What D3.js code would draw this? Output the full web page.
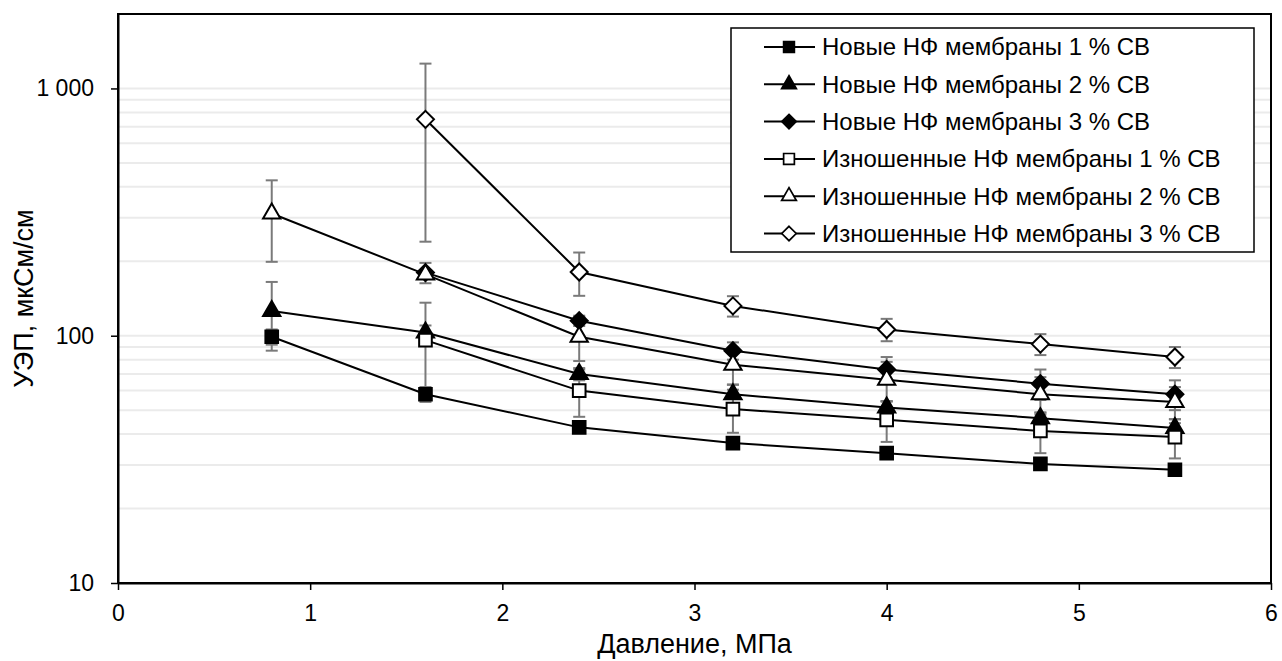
<!DOCTYPE html>
<html>
<head>
<meta charset="utf-8">
<script src="https://cdn.jsdelivr.net/npm/d3@7"></script>
<style>
  body { margin: 0; background: #fff; }
  svg { display: block; font-family: "Liberation Sans", Arial, sans-serif; }
</style>
</head>
<body>
<svg id="chart" width="1282" height="661"></svg>
<script>
// pressure, MPa
const pressures = [0.8, 1.6, 2.4, 3.2, 4.0, 4.8, 5.5];

const seriesNames = [
    "Новые НФ мембраны 1 % СВ",
    "Новые НФ мембраны 2 % СВ",
    "Новые НФ мембраны 3 % СВ",
    "Изношенные НФ мембраны 1 % СВ",
    "Изношенные НФ мембраны 2 % СВ",
    "Изношенные НФ мембраны 3 % СВ"
];

// conductivity values, µS/cm (null = no measurement)
const newOne = [99, 58, 42.6, 36.8, 33.5, 30.3, 28.7];
const newTwo = [126, 103, 70, 58, 51.3, 46.4, 42.3];
const newThree = [null, 180, 115, 87, 73, 64, 58];
const wornOne = [null, 96, 60, 50.5, 45.7, 41.2, 38.9];
const wornTwo = [312, 177, 99, 76.3, 66.4, 58, 54];
const wornThree = [null, 750, 181, 132, 106, 92.5, 82];

// error bar half-widths
const newOneErr = [7, 4, 1.5, 1.5, 1.5, 1.5, 1.5];
const newTwoErr = [39, 7, 4, 5.5, 3, 2.5, 2];
const newThreeErr = [null, 17, 5.5, 7, 9, 9, 8];
const wornOneErr = [null, 40, 13, 10, 8.5, 7.7, 7];
const wornTwoErr = [113, 5, 20, 13, 12, 10, 8];
const wornThreeErr = [null, 510, 36, 12.5, 11, 9, 8];

const markerTypes = ["square", "triangle", "diamond", "square", "triangle", "diamond"];
const markerFilled = [true, true, true, false, false, false];

const xTicks = [0, 1, 2, 3, 4, 5, 6];
const yTicks = [10, 100, 1000];
const yTickLabels = ["10", "100", "1 000"];
const yMinor = [20, 30, 40, 50, 60, 70, 80, 90, 100, 200, 300, 400, 500, 600, 700, 800, 900, 1000];

const allValues = [newOne, newTwo, newThree, wornOne, wornTwo, wornThree];
const allErrors = [newOneErr, newTwoErr, newThreeErr, wornOneErr, wornTwoErr, wornThreeErr];

function drawChart() {
    const svg = d3.select("#chart");
    const left = 118, right = 1271, top = 14, bottom = 583;

    const x = d3.scaleLinear().domain([0, 6]).range([left, right]);
    const y = d3.scaleLog().domain([10, 2000]).range([bottom, top]);

    // gridlines
    svg.append("g")
        .selectAll("line")
        .data(yMinor)
        .join("line")
        .attr("x1", left)
        .attr("x2", right)
        .attr("y1", (d) => y(d))
        .attr("y2", (d) => y(d))
        .attr("stroke", "#ebebeb")
        .attr("stroke-width", 2);

    // frame
    svg.append("rect")
        .attr("x", left)
        .attr("y", top)
        .attr("width", right - left)
        .attr("height", bottom - top)
        .attr("fill", "none")
        .attr("stroke", "#000")
        .attr("stroke-width", 2);

    // x axis
    svg.append("g")
        .attr("transform", `translate(0, ${bottom})`)
        .call(d3.axisBottom(x).tickValues(xTicks).tickSize(7).tickSizeOuter(0).tickFormat(d3.format("d")))
        .call((g) => g.select(".domain").attr("stroke-width", 2))
        .call((g) => g.selectAll(".tick line").attr("stroke-width", 1.5))
        .selectAll("text")
        .attr("y", 22)
        .attr("dy", "0.71em")
        .style("font-size", "23px")
        .style("font-family", "Liberation Sans, Arial, sans-serif")
        .attr("fill", "#000");

    // y axis
    svg.append("g")
        .attr("transform", `translate(${left}, 0)`)
        .call(d3.axisLeft(y).tickValues(yTicks).tickSize(7).tickSizeOuter(0).tickFormat((d, i) => yTickLabels[i]))
        .call((g) => g.select(".domain").attr("stroke-width", 2))
        .call((g) => g.selectAll(".tick line").attr("stroke-width", 1.5))
        .selectAll("text")
        .attr("x", -24)
        .style("font-size", "23px")
        .style("font-family", "Liberation Sans, Arial, sans-serif")
        .attr("fill", "#000");

    svg.append("text")
        .attr("x", (left + right) / 2)
        .attr("y", 653)
        .attr("text-anchor", "middle")
        .style("font-size", "27px")
        .text("Давление, МПа");

    svg.append("text")
        .attr("transform", `translate(33, ${(top + bottom) / 2}) rotate(-90)`)
        .attr("text-anchor", "middle")
        .style("font-size", "27px")
        .text("УЭП, мкСм/см");

    const series = seriesNames.map((name, i) => ({
        name: name,
        marker: markerTypes[i],
        filled: markerFilled[i],
        points: pressures
            .map((p, j) => ({x: p, v: allValues[i][j], e: allErrors[i][j]}))
            .filter((d) => d.v !== null)
    }));

    function markerPath(type) {
        if (type === "square") return d3.symbol(d3.symbolSquare, 160)();
        if (type === "triangle") return d3.symbol(d3.symbolTriangle, 130)();
        // diamond drawn as a rotated square
        const r = 8.5;
        return `M0,${-r}L${r},0L0,${r}L${-r},0Z`;
    }

    // error bars
    const eb = svg.append("g");
    series.forEach((s) => {
        s.points.forEach((d) => {
            const y1 = y(d.v + d.e), y2 = y(Math.max(d.v - d.e, 10.5));
            const cx = x(d.x);
            eb.append("line").attr("x1", cx).attr("x2", cx).attr("y1", y1).attr("y2", y2)
                .attr("stroke", "#7a7a7a").attr("stroke-width", 2);
            [y1, y2].forEach((yy) => {
                eb.append("line").attr("x1", cx - 6).attr("x2", cx + 6).attr("y1", yy).attr("y2", yy)
                    .attr("stroke", "#7a7a7a").attr("stroke-width", 2);
            });
        });
    });

    const line = d3.line().x((d) => x(d.x)).y((d) => y(d.v));

    svg.append("g")
        .selectAll("path")
        .data(series)
        .join("path")
        .attr("d", (s) => line(s.points))
        .attr("fill", "none")
        .attr("stroke", "#000")
        .attr("stroke-width", 2);

    series.forEach((s) => {
        svg.append("g")
            .selectAll("path")
            .data(s.points)
            .join("path")
            .attr("transform", (d) => `translate(${x(d.x)}, ${y(d.v)})`)
            .attr("d", markerPath(s.marker))
            .attr("fill", s.filled ? "#000" : "#fff")
            .attr("stroke", "#000")
            .attr("stroke-width", 2);
    });

    // legend
    const lg = svg.append("g");
    lg.append("rect")
        .attr("x", 731)
        .attr("y", 28)
        .attr("width", 523)
        .attr("height", 224)
        .attr("fill", "#fff")
        .attr("stroke", "#000")
        .attr("stroke-width", 1.5);

    const items = lg.selectAll("g.item")
        .data(series)
        .join("g")
        .attr("class", "item")
        .attr("transform", (d, i) => `translate(0, ${47 + i * 37.3})`);

    items.append("line")
        .attr("x1", 764).attr("x2", 815)
        .attr("stroke", "#000").attr("stroke-width", 2);

    items.append("path")
        .attr("transform", (d) => `translate(789, 0) scale(0.85)`)
        .attr("d", (d) => markerPath(d.marker))
        .attr("fill", (d) => d.filled ? "#000" : "#fff")
        .attr("stroke", "#000")
        .attr("stroke-width", 2);

    items.append("text")
        .attr("x", 822)
        .attr("dy", "0.35em")
        .style("font-size", "24px")
        .text((d) => d.name);
}

drawChart();
</script>
</body>
</html>
